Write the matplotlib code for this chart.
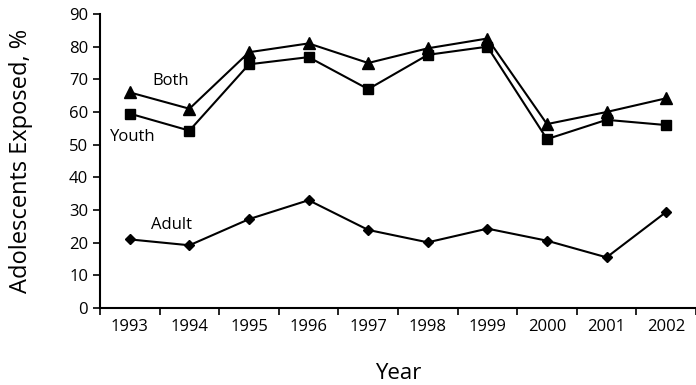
import numpy as np
import matplotlib
matplotlib.use("Agg")
import matplotlib.pyplot as plt

plt.rcParams["font.family"] = ["Open Sans", "DejaVu Sans"]

years = ["1993", "1994", "1995", "1996", "1997", "1998", "1999", "2000", "2001", "2002"]
both = [66, 61, 78.3, 81, 75, 79.5, 82.5, 56.3, 60, 64.2]
youth = [59.5, 54.3, 74.6, 76.8, 67, 77.5, 80, 51.7, 57.6, 56]
adult = [21, 19.2, 27.2, 33, 23.9, 20.1, 24.3, 20.6, 15.5, 29.4]

x = np.arange(len(years))

fig = plt.figure(figsize=(6.96, 3.85), dpi=100)
ax = fig.add_axes([100/696, 77/385, 596/696, 294/385])

ax.plot(x, both, color="black", lw=1.5, marker="^", ms=8)
ax.plot(x, youth, color="black", lw=1.5, marker="s", ms=6.5)
ax.plot(x, adult, color="black", lw=1.5, marker="D", ms=5.5)

ax.text(0.38, 69.5, "Both", fontsize=12, ha="left", va="center")
ax.text(-0.33, 52.3, "Youth", fontsize=12, ha="left", va="center")
ax.text(0.35, 25.5, "Adult", fontsize=12, ha="left", va="center")

ax.set_xlim(-0.5, 9.45)
ax.set_ylim(0, 90)
ax.set_yticks(np.arange(0, 91, 10))
ax.set_xticks(x)
ax.set_xticklabels(years)
ax.set_xticks(np.arange(-0.5, 9.6, 1), minor=True)
ax.tick_params(axis="x", which="major", length=0, labelsize=12, pad=8)
ax.tick_params(axis="x", which="minor", length=5, width=1.2, direction="out")
ax.tick_params(axis="y", length=5, width=1.2, labelsize=12)

for s in ["top", "right"]:
    ax.spines[s].set_visible(False)
for s in ["left", "bottom"]:
    ax.spines[s].set_linewidth(1.5)

ax.set_xlabel("Year", fontsize=16, labelpad=20)
ax.set_ylabel("Adolescents Exposed, %", fontsize=17, labelpad=26)

fig.savefig("out.png", dpi=100)
